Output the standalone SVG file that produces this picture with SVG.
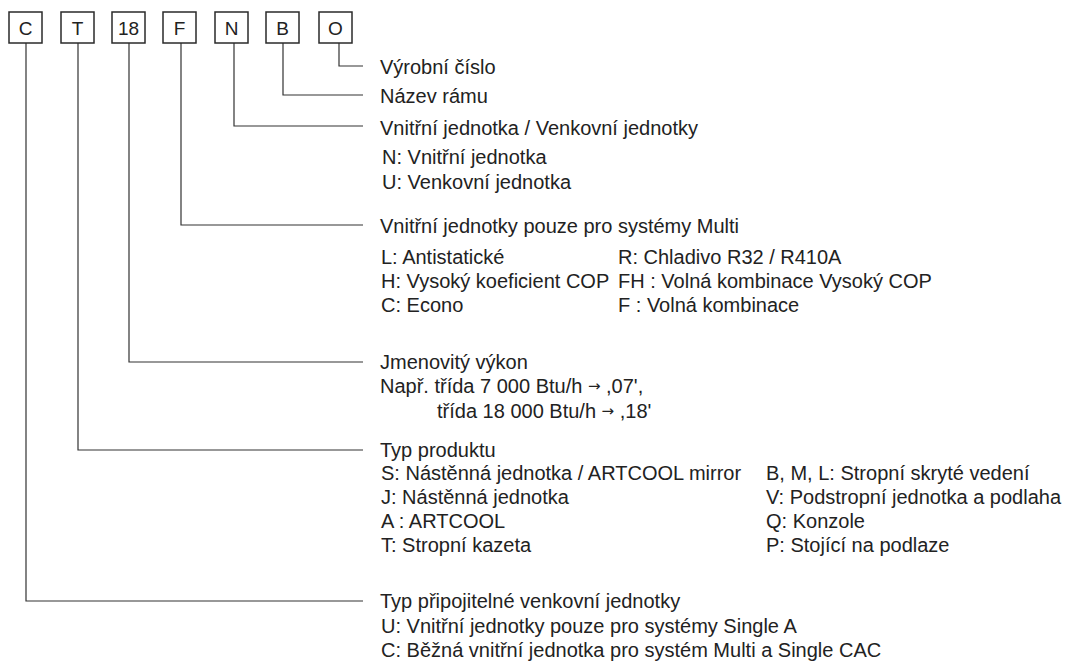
<svg xmlns="http://www.w3.org/2000/svg" width="1070" height="664" viewBox="0 0 1070 664">
<style>
.box{fill:#fff;stroke:#2a2a2a;stroke-width:1.5}
.bl{font-family:"Liberation Sans",Arial,sans-serif;font-size:19px;fill:#222;text-anchor:middle}
.t{font-family:"Liberation Sans",Arial,sans-serif;font-size:20px;fill:#222}
.ar{font-family:"DejaVu Sans",sans-serif;font-size:15px}
.c{fill:none;stroke:#333;stroke-width:1.2}
</style>
<rect width="1070" height="664" fill="#fff"/>
<g id="connectors">
<path class="c" d="M339 43V66H363"/>
<path class="c" d="M283 43V95H363"/>
<path class="c" d="M234 43V126H363"/>
<path class="c" d="M181 43V225H363"/>
<path class="c" d="M129 43V362H363"/>
<path class="c" d="M78 43V450H363"/>
<path class="c" d="M26 43V601H363"/>
</g>
<g id="box-C"><rect class="box" x="9" y="12" width="33" height="31"/><text class="bl" x="25.5" y="35">C</text></g>
<g id="box-T"><rect class="box" x="61" y="12" width="33" height="31"/><text class="bl" x="77.5" y="35">T</text></g>
<g id="box-18"><rect class="box" x="112" y="12" width="33" height="31"/><text class="bl" x="128.5" y="35">18</text></g>
<g id="box-F"><rect class="box" x="163" y="12" width="33" height="31"/><text class="bl" x="179.5" y="35">F</text></g>
<g id="box-N"><rect class="box" x="215" y="12" width="33" height="31"/><text class="bl" x="231.5" y="35">N</text></g>
<g id="box-B"><rect class="box" x="266" y="12" width="33" height="31"/><text class="bl" x="282.5" y="35">B</text></g>
<g id="box-O"><rect class="box" x="319" y="12" width="33" height="31"/><text class="bl" x="335.5" y="35">O</text></g>
<g id="label-O"><text class="t" x="380" y="74">Výrobní číslo</text></g>
<g id="label-B"><text class="t" x="380" y="103">Název rámu</text></g>
<g id="label-N">
<text class="t" x="380" y="135">Vnitřní jednotka / Venkovní jednotky</text>
<text class="t" x="382" y="164">N: Vnitřní jednotka</text>
<text class="t" x="382" y="189">U: Venkovní jednotka</text>
</g>
<g id="label-F">
<text class="t" x="380" y="233">Vnitřní jednotky pouze pro systémy Multi</text>
<text class="t" x="381" y="264">L: Antistatické</text>
<text class="t" x="381" y="288">H: Vysoký koeficient COP</text>
<text class="t" x="381" y="312">C: Econo</text>
<text class="t" x="618" y="264">R: Chladivo R32 / R410A</text>
<text class="t" x="618" y="288">FH : Volná kombinace Vysoký COP</text>
<text class="t" x="618" y="312">F : Volná kombinace</text>
</g>
<g id="label-18">
<text class="t" x="380" y="369">Jmenovitý výkon</text>
<text class="t" x="380" y="393">Např. třída 7 000 Btu/h <tspan class="ar" dy="-2">→</tspan><tspan dy="2"> ,07',</tspan></text>
<text class="t" x="437" y="418">třída 18 000 Btu/h <tspan class="ar" dy="-2">→</tspan><tspan dy="2"> ,18'</tspan></text>
</g>
<g id="label-T">
<text class="t" x="380" y="457">Typ produktu</text>
<text class="t" x="381" y="480">S: Nástěnná jednotka / ARTCOOL mirror</text>
<text class="t" x="381" y="504">J: Nástěnná jednotka</text>
<text class="t" x="381" y="528">A : ARTCOOL</text>
<text class="t" x="381" y="552">T: Stropní kazeta</text>
<text class="t" x="766" y="480">B, M, L: Stropní skryté vedení</text>
<text class="t" x="766" y="504">V: Podstropní jednotka a podlaha</text>
<text class="t" x="766" y="528">Q: Konzole</text>
<text class="t" x="766" y="552">P: Stojící na podlaze</text>
</g>
<g id="label-C">
<text class="t" x="380" y="608">Typ připojitelné venkovní jednotky</text>
<text class="t" x="381" y="633">U: Vnitřní jednotky pouze pro systémy Single A</text>
<text class="t" x="381" y="657">C: Běžná vnitřní jednotka pro systém Multi a Single CAC</text>
</g>
</svg>
